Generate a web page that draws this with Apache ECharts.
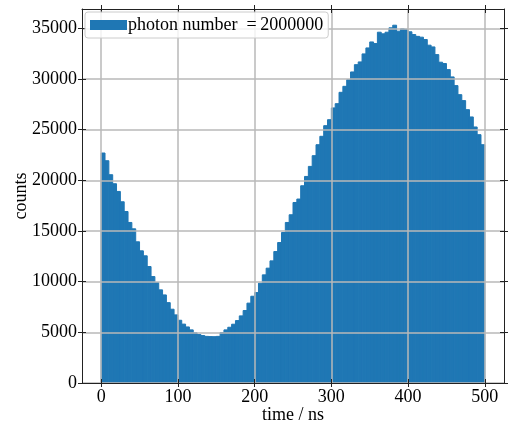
<!DOCTYPE html>
<html>
<head>
<meta charset="utf-8">
<script src="https://cdn.jsdelivr.net/npm/echarts@6/dist/echarts.min.js"></script>
<style>
  html, body { margin: 0; padding: 0; background: #fff; }
  #chart { width: 508px; height: 425px; }
</style>
</head>
<body>
<div id="chart"></div>
<script>
// histogram of photon arrival times, 5 ns bins from 0 to 500 ns
const BIN_START = 0;
const BIN_WIDTH = 5;
const COUNTS = [
  22690, 21930, 20550, 19660, 18900, 17880, 16920, 15840, 15210, 13930,
  13040, 12550, 11490, 10500, 9910, 9190, 8690, 7930, 7280, 6720,
  6190, 5810, 5530, 5240, 4950, 4780, 4680, 4600, 4580, 4570,
  4600, 4970, 5240, 5500, 5800, 6160, 6620, 7150, 7880, 8560,
  8920, 9850, 10670, 11330, 12050, 12970, 13860, 14850, 15840, 16600,
  17810, 18150, 19460, 20380, 21370, 22430, 23510, 24340, 25390, 25980,
  27140, 27560, 28680, 29270, 29930, 30690, 31410, 31680, 32470, 33060,
  33650, 33490, 34610, 34450, 34610, 35040, 35300, 34710, 34940, 34900,
  34650, 34380, 34200, 34120, 33890, 33330, 33160, 32400, 31650, 31520,
  30920, 30200, 29340, 28450, 27860, 26970, 26250, 25260, 24500, 23510
];
const X_TICKS = [0, 100, 200, 300, 400, 500];
const Y_TICKS = [0, 5000, 10000, 15000, 20000, 25000, 30000, 35000];
const SERIES_NAME = 'photon number\u2002=\u20092000000';

const BAR_COLOR = '#1f77b4';
const FONT = 'Liberation Serif';
const FS = 18;
const X_MIN = -25, X_MAX = 525;
const Y_MIN = 0, Y_MAX = 36900;

const data = COUNTS.map((c, i) => [BIN_START + i * BIN_WIDTH, BIN_START + (i + 1) * BIN_WIDTH, c]);

const chart = echarts.init(document.getElementById('chart'));

// one axis draws the spine + outward tick, a twin draws the inward half
const spine = { show: true, onZero: false, lineStyle: { color: '#222', width: 1 } };
const noSpine = { show: false, onZero: false };
function ax(kind, position, inside, extra) {
  const isX = kind === 'x';
  return Object.assign({
    type: 'value', position,
    min: isX ? X_MIN : Y_MIN, max: isX ? X_MAX : Y_MAX,
    axisLine: inside ? noSpine : spine,
    axisTick: { show: true, inside, length: 4, customValues: isX ? X_TICKS : Y_TICKS, lineStyle: { color: '#222', width: 1 } },
    axisLabel: { show: false },
    splitLine: { show: false },
    z: 3,
  }, extra || {});
}
const label = (vals) => ({
  show: true, customValues: vals, margin: 5,
  fontFamily: FONT, fontSize: FS, color: '#000',
  formatter: (v) => String(v),
});
const gridLine = { show: true, lineStyle: { color: '#b8b8b8', width: 1.5 } };
const nameStyle = { fontFamily: FONT, fontSize: FS, color: '#000' };

chart.setOption({
  animation: false,
  textStyle: { fontFamily: FONT },
  grid: { left: 82, right: 4, top: 9, bottom: 42, containLabel: false, outerBoundsMode: 'none' },
  legend: {
    left: 85, top: 12,
    padding: [4, 5, 4, 5],
    itemWidth: 37, itemHeight: 10,
    icon: 'rect',
    backgroundColor: 'rgba(255,255,255,0.8)',
    borderColor: '#cccccc', borderWidth: 1, borderRadius: 3,
    textStyle: { fontFamily: FONT, fontSize: FS, color: '#000', padding: [0, 0, 0, -4] },
    data: [SERIES_NAME],
  },
  xAxis: [
    ax('x', 'bottom', false, {
      name: 'time / ns', nameLocation: 'middle', nameGap: 23, nameMoveOverlap: false, nameTextStyle: nameStyle,
      axisLabel: label(X_TICKS), splitLine: gridLine,
    }),
    ax('x', 'bottom', true),
    ax('x', 'top', false),
    ax('x', 'top', true),
  ],
  yAxis: [
    ax('y', 'left', false, {
      name: 'counts', nameLocation: 'middle', nameGap: 52, nameMoveOverlap: false, nameTextStyle: nameStyle,
      axisLabel: label(Y_TICKS), splitLine: gridLine,
    }),
    ax('y', 'left', true),
    ax('y', 'right', false),
    ax('y', 'right', true),
  ],
  series: [{
    name: SERIES_NAME,
    type: 'custom',
    xAxisIndex: 0, yAxisIndex: 0,
    itemStyle: { color: BAR_COLOR },
    encode: { x: [0, 1], y: 2 },
    data,
    z: 2,
    renderItem: (params, api) => {
      const p0 = api.coord([api.value(0), api.value(2)]);
      const p1 = api.coord([api.value(1), 0]);
      return {
        type: 'rect',
        shape: { x: p0[0], y: p0[1], width: p1[0] - p0[0], height: p1[1] - p0[1] },
        style: { fill: BAR_COLOR, stroke: BAR_COLOR, lineWidth: 1 },
      };
    },
  }],
});
</script>
</body>
</html>
